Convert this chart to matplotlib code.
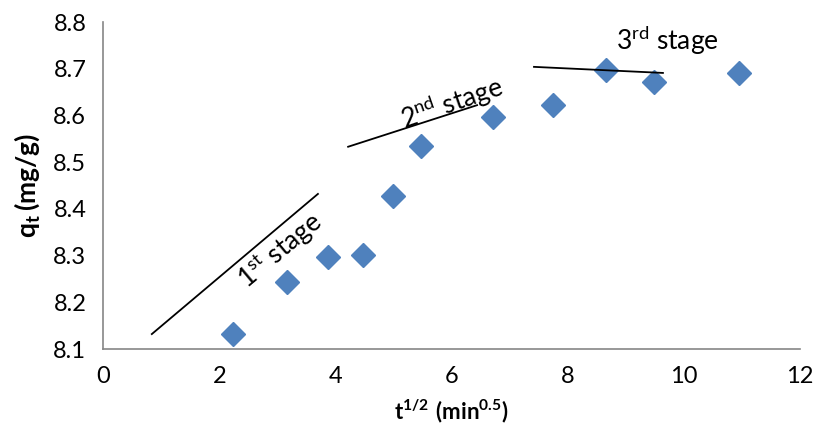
import matplotlib
matplotlib.use("Agg")
import matplotlib.pyplot as plt

# sqrt(t) in min^0.5 and adsorbed amount q_t in mg/g
t_sqrt = [2.236, 3.162, 3.873, 4.472, 5.000, 5.477, 6.708, 7.746, 8.660, 9.487, 10.954]
qt     = [8.133, 8.243, 8.297, 8.302, 8.428, 8.535, 8.597, 8.623, 8.698, 8.671, 8.690]

# hand-drawn stage lines (x pair, y pair)
stage1_x, stage1_y = [0.84, 3.70], [8.132, 8.432]
stage2_x, stage2_y = [4.22, 6.44], [8.533, 8.622]
stage3_x, stage3_y = [7.42, 9.64], [8.704, 8.691]

plt.rcParams["font.family"] = ["Lato", "DejaVu Sans"]
plt.rcParams["mathtext.fontset"] = "custom"
plt.rcParams["mathtext.rm"] = "Lato"
plt.rcParams["mathtext.bf"] = "Lato:bold"

fig = plt.figure(figsize=(8.19, 4.36), dpi=100)
ax = fig.add_axes([0.1258, 0.1995, 0.851, 0.750])

ax.plot(t_sqrt, qt, linestyle="none", marker="D", markersize=12,
        color="#4F81BD", markeredgecolor="#4F81BD")

for xs, ys in [(stage1_x, stage1_y), (stage2_x, stage2_y), (stage3_x, stage3_y)]:
    ax.plot(xs, ys, color="black", lw=1.3)

ax.text(3.05, 8.312, r"1$^{\rm st}$ stage", rotation=40, fontsize=19,
        ha="center", va="center")
ax.text(6.01, 8.627, r"2$^{\rm nd}$ stage", rotation=19, fontsize=19,
        ha="center", va="center")
ax.text(9.72, 8.762, r"3$^{\rm rd}$ stage", fontsize=19,
        ha="center", va="center")

ax.set_xlim(0, 12)
ax.set_ylim(8.1, 8.8)
ax.set_xticks(range(0, 13, 2))
ax.set_yticks([8.1, 8.2, 8.3, 8.4, 8.5, 8.6, 8.7, 8.8])
ax.set_yticklabels([f"{v:.1f}" for v in ax.get_yticks()])
ax.tick_params(length=0, labelsize=17, pad=12)

for side in ["top", "right"]:
    ax.spines[side].set_visible(False)
for side in ["left", "bottom"]:
    ax.spines[side].set_color("#868686")
    ax.spines[side].set_linewidth(1.2)

ax.set_xlabel(r"$\mathbf{t^{1/2}\ (min^{0.5})}$", fontsize=16, labelpad=8)
ax.set_ylabel(r"$\mathbf{q_t\,(mg/g)}$", fontsize=19, labelpad=8)

fig.savefig("out.png", dpi=100)
